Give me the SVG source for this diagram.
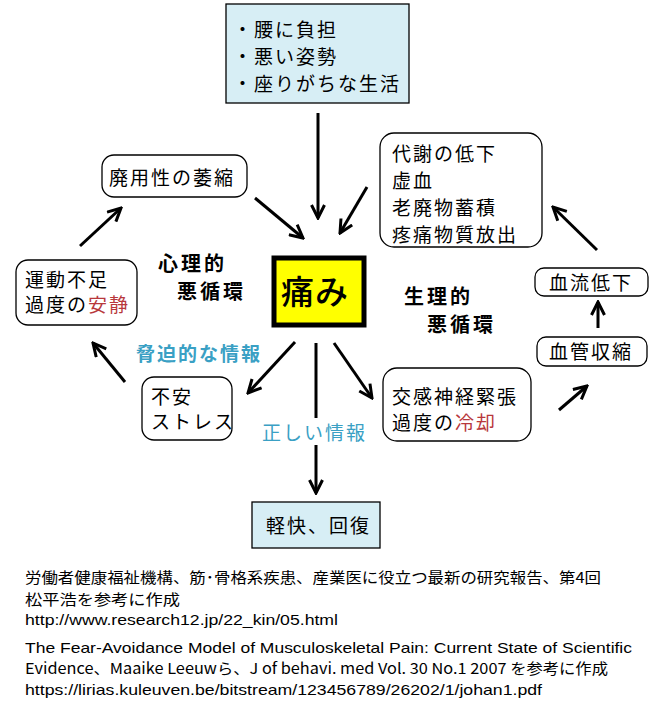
<svg xmlns="http://www.w3.org/2000/svg" width="663" height="711" viewBox="0 0 663 711">
<style>
.bg{fill:#fff}
.rb{fill:#fff;stroke:#000;stroke-width:1.3}
.sq{fill:#d7eef5;stroke:#000;stroke-width:1.3}
.t{font-family:"Noto Sans CJK JP","Noto Sans",sans-serif;font-size:19px;letter-spacing:2px;fill:#000}
.b{font-family:"Noto Sans CJK JP",sans-serif;font-size:20px;font-weight:bold;letter-spacing:3px;fill:#000}
.teal{fill:#3aa0c4}
.red{fill:#b8383c}
.f{font-family:"Noto Sans CJK JP",sans-serif;font-size:15px;fill:#000}
.e{font-family:"Liberation Sans","Noto Sans",sans-serif;font-size:15px;fill:#000}
.ln{stroke:#000;stroke-width:3;fill:none;marker-end:url(#ah)}
</style>
<defs>
<marker id="ah" viewBox="0 0 16 16" refX="14" refY="8" markerWidth="16" markerHeight="16" markerUnits="userSpaceOnUse" orient="auto">
<path d="M1,1.5 L14,8 L1,14.5" fill="none" stroke="#000" stroke-width="3"/>
</marker>
</defs>
<rect class="bg" x="0" y="0" width="663" height="711"/>

<g id="connectors">
<line class="ln" x1="318" y1="113" x2="318" y2="218"/>
<line class="ln" x1="255" y1="198" x2="303" y2="238"/>
<line class="ln" x1="367" y1="187" x2="340" y2="233"/>
<line class="ln" x1="80" y1="246" x2="121" y2="208"/>
<line class="ln" x1="597" y1="250" x2="553" y2="207"/>
<line class="ln" x1="598" y1="328" x2="598" y2="302"/>
<line class="ln" x1="559" y1="410" x2="587" y2="386"/>
<line class="ln" x1="295" y1="342" x2="248" y2="393"/>
<line class="ln" x1="334" y1="343" x2="372" y2="398"/>
<line class="ln" x1="125" y1="382" x2="93" y2="343"/>
<line stroke="#000" stroke-width="3" x1="316" y1="343" x2="316" y2="418"/>
<line class="ln" x1="316" y1="445" x2="316" y2="493"/>
</g>

<g id="cause">
<rect class="sq" x="226" y="4" width="183" height="99"/>
<text class="t" x="233" y="37" letter-spacing="1">・腰に負担</text>
<text class="t" x="233" y="64" letter-spacing="1">・悪い姿勢</text>
<text class="t" x="233" y="91" letter-spacing="1">・座りがちな生活</text>
</g>

<g id="atrophy">
<rect class="rb" x="102" y="155" width="145" height="42" rx="12"/>
<text class="t" x="109" y="185">廃用性の萎縮</text>
</g>

<g id="inactivity">
<rect class="rb" x="16" y="260" width="121" height="65" rx="12"/>
<text class="t" x="25" y="287">運動不足</text>
<text class="t" x="25" y="312">過度の<tspan class="red">安静</tspan></text>
</g>

<g id="psych-label">
<text class="b" x="158" y="271">心理的</text>
<text class="b" x="177" y="299">悪循環</text>
</g>

<g id="pain">
<rect x="274" y="258" width="90" height="67" fill="#ffff00" stroke="#000" stroke-width="5"/>
<text x="281" y="304" font-family="Noto Sans CJK JP,sans-serif" font-size="33" font-weight="500" letter-spacing="1">痛み</text>
</g>

<g id="physio-label">
<text class="b" x="404" y="304">生理的</text>
<text class="b" x="427" y="332">悪循環</text>
</g>

<g id="metabolism">
<rect class="rb" x="380" y="133" width="162" height="114" rx="14"/>
<text class="t" x="392" y="161">代謝の低下</text>
<text class="t" x="392" y="188">虚血</text>
<text class="t" x="392" y="215">老廃物蓄積</text>
<text class="t" x="392" y="242">疼痛物質放出</text>
</g>

<g id="bloodflow">
<rect class="rb" x="535" y="268" width="113" height="28" rx="9"/>
<text class="t" x="549" y="290">血流低下</text>
</g>

<g id="vasoconstriction">
<rect class="rb" x="537" y="337" width="110" height="29" rx="9"/>
<text class="t" x="549" y="359">血管収縮</text>
</g>

<g id="sympathetic">
<rect class="rb" x="383" y="368" width="148" height="73" rx="14"/>
<text class="t" x="392" y="404">交感神経緊張</text>
<text class="t" x="392" y="430">過度の<tspan class="red">冷却</tspan></text>
</g>

<g id="anxiety">
<rect class="rb" x="142" y="377" width="90" height="63" rx="12"/>
<text class="t" x="151" y="404">不安</text>
<text class="t" x="151" y="429" letter-spacing="-1">ストレス</text>
</g>

<g id="threat-label">
<text class="t teal" x="136" y="361" font-weight="bold">脅迫的な情報</text>
</g>

<g id="correct-label">
<text class="t teal" x="262" y="440" letter-spacing="1">正しい情報</text>
</g>

<g id="recovery">
<rect class="sq" x="252" y="502" width="128" height="46"/>
<text class="t" x="266" y="533">軽快、回復</text>
</g>

<g id="references">
<text class="f" x="25" y="583" textLength="576" lengthAdjust="spacingAndGlyphs">労働者健康福祉機構、筋･骨格系疾患、産業医に役立つ最新の研究報告、第4回</text>
<text class="f" x="25" y="605" textLength="155" lengthAdjust="spacingAndGlyphs">松平浩を参考に作成</text>
<text class="e" x="25" y="625" textLength="313" lengthAdjust="spacingAndGlyphs">http://www.research12.jp/22_kin/05.html</text>
<text class="e" x="25" y="653" textLength="607" lengthAdjust="spacingAndGlyphs">The Fear-Avoidance Model of Musculoskeletal Pain: Current State of Scientific</text>
<text class="f" x="25" y="674" textLength="583" lengthAdjust="spacingAndGlyphs">Evidence、Maaike Leeuwら、J of behavi. med Vol. 30 No.1 2007 を参考に作成</text>
<text class="e" x="25" y="695" textLength="517" lengthAdjust="spacingAndGlyphs">https://lirias.kuleuven.be/bitstream/123456789/26202/1/johan1.pdf</text>
</g>
</svg>
